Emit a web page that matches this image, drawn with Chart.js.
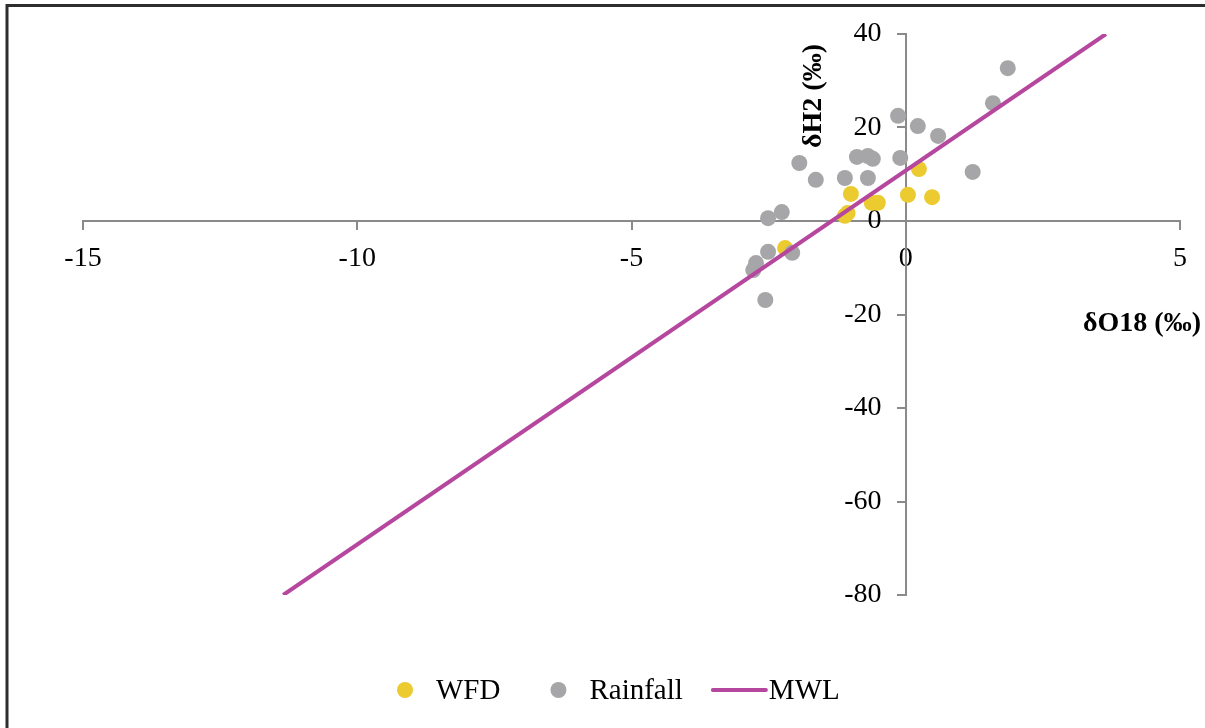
<!DOCTYPE html>
<html>
<head>
<meta charset="utf-8">
<script src="https://cdn.jsdelivr.net/npm/chart.js@4.4.1/dist/chart.umd.min.js"></script>
<style>
  html, body { margin: 0; padding: 0; background: #ffffff; overflow: hidden; }
  #wrap { position: relative; width: 1205px; height: 728px; }
</style>
</head>
<body>
<div id="wrap"><canvas id="c" width="1205" height="728"></canvas></div>
<script>
// Water-from-drill (WFD) samples
const wfdO18 = [0.24, -1.00, 0.04, 0.48, -0.62, -0.51, -1.06, -1.11, -2.20];
const wfdH2  = [11.1, 5.8, 5.6, 5.1, 3.9, 3.9, 1.7, 1.1, -5.8];

// Rainfall samples
const rainO18 = [1.86, 1.59, -0.14, 0.22, 0.59, -0.89, -0.69, -0.60, -0.10, -1.94, 1.22,
                 -1.11, -0.69, -1.64, -2.26, -2.51, -2.51, -2.07, -2.73, -2.78, -2.56];
const rainH2  = [32.7, 25.2, 22.5, 20.3, 18.2, 13.7, 13.9, 13.3, 13.5, 12.4, 10.5,
                 9.2, 9.2, 8.8, 1.9, 0.6, -6.6, -6.8, -9.0, -10.5, -16.9];

// Meteoric water line end points
const mwlO18 = [-11.35, 3.65];
const mwlH2  = [-80, 40];

// Axis ticks
const xTickValues = [-15, -10, -5, 0, 5];
const yTickValues = [-80, -60, -40, -20, 0, 20, 40];

// Labels
const seriesNames = ['WFD', 'Rainfall', 'MWL'];
const xTitle = 'δO18 (‰)';
const yTitle = 'δH2 (‰)';

const COLORS = { wfd: '#EBCB30', rain: '#A6A6A9', mwl: '#B6479E', axis: '#8A8A8A' };
const SERIF = "'Liberation Serif', 'Times New Roman', serif";
// the y tick labels sit a little left of the vertical axis (in x units)
const Y_LABEL_SHIFT = -0.44;

const toPoints = (xs, ys) => xs.map((x, i) => ({ x: x, y: ys[i] }));

// Axis titles, legend and outer frame
const decorations = {
  id: 'decorations',
  afterDraw(chart) {
    const ctx = chart.ctx;
    ctx.save();

    // frame lines (top and left)
    ctx.strokeStyle = '#2E2E2E';
    ctx.lineWidth = 3;
    ctx.beginPath();
    ctx.moveTo(7, 728);
    ctx.lineTo(7, 5.5);
    ctx.lineTo(1205, 5.5);
    ctx.stroke();

    // axis titles
    ctx.fillStyle = '#000';
    ctx.font = 'bold 28px ' + SERIF;
    ctx.textAlign = 'right';
    ctx.textBaseline = 'middle';
    ctx.fillText(xTitle, 1201, 324);

    ctx.save();
    ctx.translate(814, 96);
    ctx.rotate(-Math.PI / 2);
    ctx.textAlign = 'center';
    ctx.fillText(yTitle, 0, 0);
    ctx.restore();

    // legend
    const ly = 690;
    ctx.font = '29px ' + SERIF;
    ctx.textAlign = 'left';
    ctx.textBaseline = 'middle';
    let x = 397;
    const items = [
      { name: seriesNames[0], kind: 'dot', color: COLORS.wfd },
      { name: seriesNames[1], kind: 'dot', color: COLORS.rain },
      { name: seriesNames[2], kind: 'line', color: COLORS.mwl }
    ];
    items.forEach((it, i) => {
      if (it.kind === 'dot') {
        ctx.fillStyle = it.color;
        ctx.beginPath();
        ctx.arc(x + 8, ly, 8, 0, Math.PI * 2);
        ctx.fill();
        x += 39;
      } else {
        ctx.strokeStyle = it.color;
        ctx.lineWidth = 4;
        ctx.lineCap = 'round';
        ctx.beginPath();
        ctx.moveTo(x + 2, ly);
        ctx.lineTo(x + 55, ly);
        ctx.stroke();
        x += 58;
      }
      ctx.fillStyle = '#000';
      ctx.fillText(it.name, x, ly + 1);
      const next = items[i + 1];
      x += ctx.measureText(it.name).width + (next && next.kind === 'line' ? 28 : 50);
    });

    ctx.restore();
  }
};

const axisGrid = { drawOnChartArea: false, drawTicks: true, tickLength: 8, color: COLORS.axis, lineWidth: 2 };
const tickFont = { family: SERIF, size: 28 };

new Chart(document.getElementById('c'), {
  type: 'scatter',
  data: {
    datasets: [
      {
        label: seriesNames[2],
        type: 'line',
        data: toPoints(mwlO18, mwlH2),
        borderColor: COLORS.mwl,
        borderWidth: 4,
        pointRadius: 0,
        pointHoverRadius: 0,
        fill: false,
        order: 0
      },
      {
        label: seriesNames[1],
        data: toPoints(rainO18, rainH2),
        backgroundColor: COLORS.rain,
        borderWidth: 0,
        pointRadius: 8,
        order: 1
      },
      {
        label: seriesNames[0],
        data: toPoints(wfdO18, wfdH2),
        backgroundColor: COLORS.wfd,
        borderWidth: 0,
        pointRadius: 8,
        order: 2
      }
    ]
  },
  options: {
    responsive: false,
    animation: false,
    devicePixelRatio: 1,
    layout: { padding: { left: 83, right: 25, top: 34, bottom: 133 } },
    plugins: { legend: { display: false }, tooltip: { enabled: false } },
    scales: {
      x: {
        type: 'linear',
        position: { y: 0 },
        min: -15, max: 5,
        afterBuildTicks: (s) => { s.ticks = xTickValues.map(v => ({ value: v })); },
        afterFit: (s) => { s.height = 0; },
        grid: axisGrid,
        border: { display: true, color: COLORS.axis, width: 2 },
        ticks: { color: '#000', padding: 13, maxRotation: 0, font: tickFont }
      },
      y: {
        type: 'linear',
        position: { x: 0 },
        min: -80, max: 40,
        afterBuildTicks: (s) => { s.ticks = yTickValues.map(v => ({ value: v })); },
        afterFit: (s) => { s.width = 0; },
        grid: axisGrid,
        border: { display: true, color: COLORS.axis, width: 2 },
        ticks: { display: false }
      },
      yLabels: {
        type: 'linear',
        axis: 'y',
        position: { x: Y_LABEL_SHIFT },
        min: -80, max: 40,
        afterBuildTicks: (s) => { s.ticks = yTickValues.map(v => ({ value: v })); },
        afterFit: (s) => { s.width = 0; },
        grid: { display: false },
        border: { display: false },
        ticks: { color: '#000', font: tickFont }
      }
    }
  },
  plugins: [decorations]
});
</script>
</body>
</html>
